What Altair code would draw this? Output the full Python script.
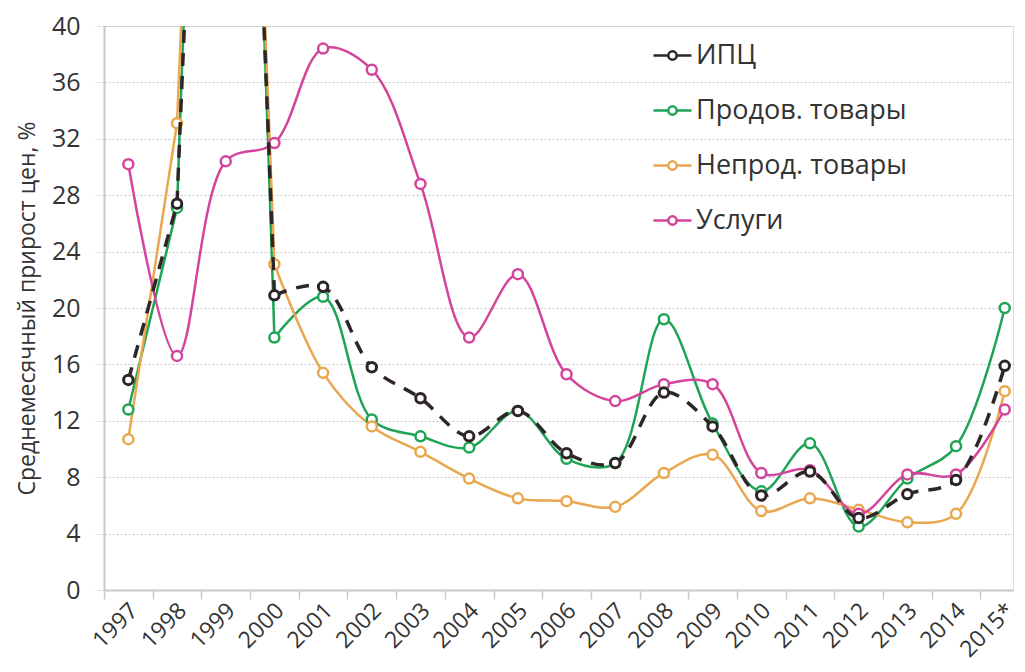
import altair as alt
import pandas as pd

years = ["1997", "1998", "1999", "2000", "2001", "2002", "2003", "2004", "2005", "2006",
         "2007", "2008", "2009", "2010", "2011", "2012", "2013", "2014", "2015*"]
series_names = ["ИПЦ", "Продов. товары", "Непрод. товары", "Услуги"]
cpi      = [14.9, 27.4, 85.7, 20.9, 21.5, 15.8, 13.6, 10.9, 12.7, 9.7, 9.0, 14.0, 11.6, 6.7, 8.4, 5.1, 6.8, 7.8, 15.9]
food     = [12.8, 27.1, 93.0, 17.9, 20.8, 12.1, 10.9, 10.1, 12.7, 9.3, 9.0, 19.2, 11.8, 7.0, 10.4, 4.5, 7.9, 10.2, 20.0]
nonfood  = [10.7, 33.1, 88.0, 23.1, 15.4, 11.6, 9.8, 7.9, 6.5, 6.3, 5.9, 8.3, 9.6, 5.6, 6.5, 5.7, 4.8, 5.4, 14.1]
services = [30.2, 16.6, 30.4, 31.7, 38.4, 36.9, 28.8, 17.9, 22.4, 15.3, 13.4, 14.6, 14.6, 8.3, 8.5, 5.4, 8.2, 8.2, 12.8]
colors = ["#2e2626", "#1fa456", "#e9a74e", "#d4449c"]

# points
rows = []
for name, vals in zip(series_names, [cpi, food, nonfood, services]):
    for i, (yr, v) in enumerate(zip(years, vals)):
        rows.append({"series": name, "year": yr, "pos": i + 0.5, "value": v})
df = pd.DataFrame(rows)

# line pieces: the off-scale 1999 spike is drawn as its own piece so the
# smoothing around it does not overshoot the neighbouring years
line_rows = []
for name, vals in zip(series_names, [cpi, food, nonfood, services]):
    if name == "Услуги":
        pieces = [("all", range(0, len(years)), "main")]
    else:
        pieces = [("a", range(0, 2), "main"), ("b", range(1, 4), "spike"),
                  ("c", range(3, len(years)), "main")]
    for seg, idx, kind in pieces:
        for i in idx:
            line_rows.append({"series": name, "seg": seg, "kind": kind,
                              "pos": i + 0.5, "value": vals[i]})
ldf = pd.DataFrame(line_rows)

label_expr = "[" + ",".join("'" + y + "'" for y in years) + "][datum.value]"
FONT = "Open Sans"

x = alt.X("pos:Q", scale=alt.Scale(domain=[0, 18.67], nice=False, zero=False),
          axis=alt.Axis(values=list(range(19)), labelExpr=label_expr, labelAngle=-45,
                        labelOffset=22, labelPadding=0, labelFontSize=23, labelFont=FONT,
                        labelColor="#333333", tickSize=9, tickColor="#c8c8c8", tickWidth=1.5,
                        domainColor="#c8c8c8", domainWidth=2, grid=False, title=None,
                        labelOverlap=False, labelFlush=False, labelBound=False))
y = alt.Y("value:Q", scale=alt.Scale(domain=[0, 40], nice=False),
          axis=alt.Axis(values=list(range(0, 41, 4)), labelFontSize=25, labelFont=FONT,
                        labelColor="#333333", labelPadding=15, tickSize=9,
                        tickColor="#c8c8c8", tickDash=[2, 2], domainColor="#c8c8c8", domainWidth=2,
                        gridColor="#c4c4c4", gridDash=[2, 2], gridWidth=1,
                        title="Среднемесячный прирост цен, %", titleFontSize=23, titleFont=FONT,
                        titleFontWeight="normal", titleColor="#333333", titlePadding=12))

cscale = alt.Scale(domain=series_names, range=colors)
color = alt.Color("series:N", scale=cscale,
                  legend=alt.Legend(orient="none", legendX=548, legendY=9, title=None,
                                    symbolType="M-1,0L-0.22,0M0.22,0L1,0M-0.22,0A0.22,0.22 0 1,1 0.22,0A0.22,0.22 0 1,1 -0.22,0",
                                    symbolSize=1444, symbolStrokeWidth=2.5, symbolFillColor="white",
                                    labelFontSize=27, labelFont=FONT, labelColor="#333333",
                                    labelOffset=3, rowPadding=21, labelLimit=400))
color_nl = alt.Color("series:N", scale=cscale, legend=None)

lbase = alt.Chart(ldf)
is_cpi = alt.datum.series == "ИПЦ"
main_lines = lbase.transform_filter((alt.datum.kind == "main") & (alt.datum.series != "ИПЦ")).mark_line(
    interpolate="catmull-rom", strokeWidth=2.5, clip=True).encode(
    x=x, y=y, color=color, detail="seg:N")
spike_lines = lbase.transform_filter((alt.datum.kind == "spike") & (alt.datum.series != "ИПЦ")).mark_line(
    interpolate="cardinal", strokeWidth=2.5, clip=True).encode(
    x=x, y=y, color=color_nl, detail="seg:N")
cpi_main = lbase.transform_filter((alt.datum.kind == "main") & is_cpi).mark_line(
    interpolate="catmull-rom", strokeWidth=3.5, strokeDash=[13, 10], clip=True).encode(
    x=x, y=y, color=color_nl, detail="seg:N")
cpi_spike = lbase.transform_filter((alt.datum.kind == "spike") & is_cpi).mark_line(
    interpolate="cardinal", strokeWidth=3.5, strokeDash=[13, 10], clip=True).encode(
    x=x, y=y, color=color_nl, detail="seg:N")

base = alt.Chart(df)
points = base.transform_filter(alt.datum.series != "ИПЦ").mark_point(
    filled=False, fill="white", size=100, strokeWidth=2.5, opacity=1, clip=True).encode(
    x=x, y=y, color=color_nl)
cpi_points = base.transform_filter(is_cpi).mark_point(
    filled=False, fill="white", size=90, strokeWidth=3, opacity=1, clip=True).encode(
    x=x, y=y, color=color_nl)

chart = alt.layer(main_lines, spike_lines, points, cpi_main, cpi_spike, cpi_points).properties(
    width=909, height=564,
    autosize=alt.AutoSizeParams(type="none"),
    padding={"left": 96, "top": 18, "right": 4, "bottom": 74},
).configure_view(stroke=None).configure(background="white")

chart.save("out.html", embed_options={"renderer": "svg", "actions": False})
